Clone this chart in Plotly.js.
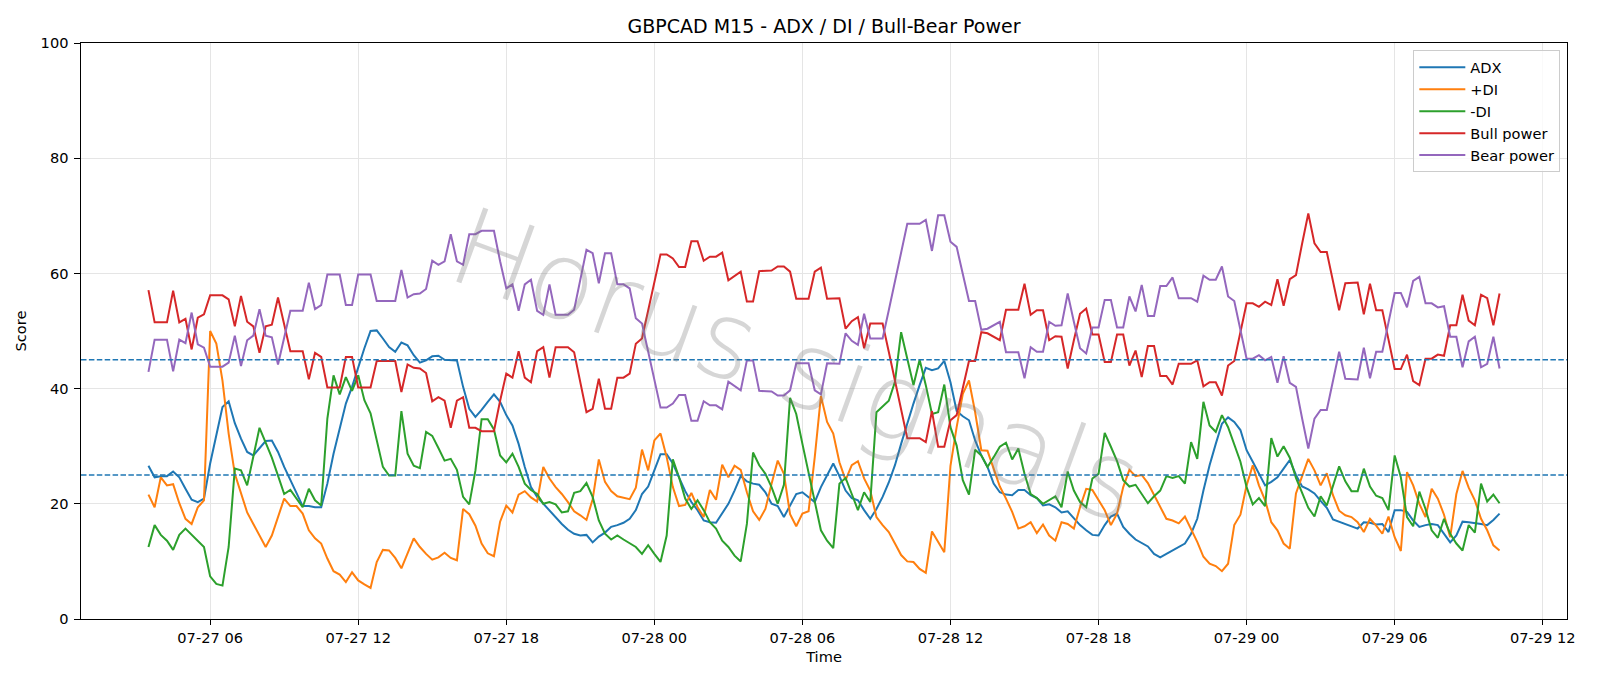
<!DOCTYPE html>
<html>
<head>
<meta charset="utf-8">
<script src="https://cdn.plot.ly/plotly-3.0.1.min.js"></script>
<style>
  html, body { margin: 0; padding: 0; background: #ffffff; }
  #chart { width: 1600px; height: 686px; }
</style>
</head>
<body>
<div id="chart"></div>
<script>
// GBPCAD M15 indicator scores, one value per 15-minute bar
const startTime = '2025-07-27T03:30:00';
const stepMinutes = 15;

const adx = [
  26.6,24.6,24.8,24.8,25.6,24.6,22.6,20.7,20.3,20.9,
  27,32.2,36.8,37.8,34,31.3,29,28.4,29.6,30.9,
  31,29,26.4,24.1,21.8,19.6,19.6,19.4,19.4,23.5,
  28.7,33.3,37.4,40.3,43.8,47,50,50.1,48.7,47.2,
  46.4,48,47.5,45.8,44.5,44.9,45.6,45.7,45,45,
  44.9,40.3,36.5,35.1,36.3,37.7,39,37.7,35.4,33.6,
  30.4,26.4,22.9,21.2,20,18.9,17.7,16.5,15.5,14.8,
  14.5,14.6,13.3,14.3,15,16,16.3,16.7,17.4,18.9,
  21.7,23,25.8,28.6,28.6,27,24.6,22.2,20.3,18.9,
  17.1,16.8,16.7,18.3,20,22.3,24.8,23.9,23.5,23.3,
  22,20,19.6,17.7,19.6,21.7,22,21.2,20.3,22.9,
  24.9,27,24.8,22.3,21,20.6,18.9,17.4,19.1,21.2,
  23.7,26.7,30.4,34,37.4,40.6,43.6,43.2,43.5,44.8,
  41.1,36.1,35.2,34.5,31,28.4,26.4,23.5,22,21.6,
  21.5,22.4,22.4,21.5,21,19.7,19.9,19.4,18.5,18.7,
  17.4,16.3,15.4,14.6,14.5,16.3,17.8,18.3,16,14.8,
  13.8,13.2,12.6,11.3,10.7,11.3,11.9,12.4,13.1,14.8,
  17.4,22.3,26.7,30.4,33.9,35,34.2,32.8,29.3,27.3,
  25.2,23.2,23.8,24.6,26.1,27.6,25,23,22.5,21.8,
  20.5,19.3,17.3,16.9,16.4,16,15.7,16.8,16.7,16.4,
  16.5,15.1,18.9,18.9,18.6,17.1,16,16.3,16.5,16.3,
  14.8,13.3,14.5,16.9,16.8,16.7,16.5,16.3,17.2,18.3
];

const plusDI = [
  21.6,19.4,24.6,23.2,23.4,20.1,17.4,16.5,19.4,20.6,
  50,47.8,41.4,32.2,25.2,21.9,18.5,16.5,14.5,12.5,
  14.5,17.7,20.9,19.6,19.6,18.3,15.4,14,13.1,10.5,
  8.3,7.7,6.4,8.1,6.7,6,5.4,9.9,12,11.9,
  10.6,8.8,11.3,14,12.5,11.3,10.3,10.7,11.5,10.6,
  10.2,19.1,18.2,16.2,13.1,11.4,10.9,16.9,19.7,18.5,
  21.6,22.2,21.1,20.4,26.4,24.4,22.9,21.7,20.3,18.7,
  18,17.2,20.8,27.7,23.8,22.2,21.3,21,20.8,22.8,
  29.4,25.8,31,32.2,28.1,22.9,19.6,19.8,21.9,19.4,
  17.7,22.4,20.7,26.8,24.6,26.6,25.9,22,18.7,17.2,
  19.1,23.5,27.5,25.2,18.2,16.1,18.3,18.7,28.1,38.7,
  34.2,32.2,27.2,24.1,26.7,27.4,24.4,22.3,17.7,16.3,
  15.1,13.1,11.1,10,9.9,8.7,8,15.2,13.3,11.6,
  26.6,33.3,39.1,41.4,35.9,29.3,29.2,26.1,23,20.9,
  18.6,15.7,16.1,16.8,14.9,16.4,14.5,13.6,16.8,16.5,
  15.7,19.4,22.6,22.4,20.6,18.9,16.3,18.3,22.9,25.9,
  24.8,25,23.6,21.5,19.4,17.4,17.1,16.6,17.8,15.7,
  13.4,10.8,9.6,9.2,8.3,9.6,16.3,18.1,23.2,26.7,
  23.2,20.6,16.8,15.4,13.1,12.2,21.8,24.8,27.8,25.8,
  23.2,25.3,21.5,18.8,18,17.7,16.8,15.1,17.4,16.2,
  14.8,17.8,14.2,11.8,25.5,23.2,20,17.7,22.6,20.9,
  18.1,14.2,21.7,25.7,22.8,20.6,17.4,15.4,12.8,11.9
];

const minusDI = [
  12.5,16.3,14.6,13.6,12,14.6,15.7,14.6,13.5,12.5,
  7.4,6.1,5.8,12.5,26.1,25.8,23.2,28.1,33.2,30.6,
  28,24.9,21.7,22.4,20.9,19.4,22.6,20.6,19.7,34.8,
  42.3,39,42,39.6,42.3,38,35.7,30.8,26.4,24.9,
  24.9,36.1,28.7,26.6,26.2,32.5,31.8,29.7,27.5,27.8,
  25.9,21.2,19.9,25.8,34.7,34.7,32.9,28.4,27.2,28.7,
  26.4,23.5,22.4,21.7,20,20.3,19.9,18.5,18.7,21.9,
  22.2,23.6,21.2,17.1,14.8,13.8,14.5,13.8,13.1,12.5,
  11.3,12.8,11.3,9.9,14.5,27.7,24.6,20.9,19.1,20.6,
  18.9,16.8,15.7,13.6,12.5,11,10,16.5,28.9,26.7,
  25.2,22.9,20,23.3,38.4,35.6,30.4,25.2,20.6,15.4,
  13.6,12.3,23.5,24.5,21.7,18.9,22,20.3,35.9,36.9,
  37.9,41.2,49.8,45.2,40.6,45,40.6,35.6,35.9,40.7,
  33.3,30.1,24.1,21.6,29.4,28.4,26.4,28.1,29.9,30.6,
  27.7,29.6,25.2,21.7,21,20,20.6,21.3,19.4,25.6,
  22.3,20.3,19.4,24.4,25.2,32.3,29.9,27.4,24.1,23,
  23.3,21.7,20.1,21.3,22.3,24.8,24.5,24.8,23.5,30.7,
  27.8,37.7,33.6,32.5,35.4,33.3,30.4,27.3,22.9,19.9,
  21,19.6,31.4,28.2,30,28,24.5,22,19.3,17.8,
  21.3,19.7,23.3,26.5,23.9,22.2,22.2,26.1,23,21.4,
  21,18.9,28.4,24.6,17.7,16.1,22.1,19.1,15.4,14.1,
  17.4,14.8,13.1,11.9,16.3,15,23.5,20.4,21.6,20.1
];

const bullPower = [
  57.1,51.5,51.5,51.5,57,51.5,52.1,46.8,52.3,52.9,
  56.2,56.2,56.2,55.5,50.8,56.1,51.6,50.8,46.2,50.8,
  51.1,55.8,51.2,46.5,46.5,46.5,41.6,46.2,45.5,40.2,
  40.2,40.2,45.5,45.5,40.2,40.2,40.2,44.8,44.8,44.8,
  44.8,39.4,44.2,43.6,43.5,42.7,37.8,38.5,37.9,33.2,
  37.9,38.5,33.2,33.2,32.6,32.6,32.6,37.9,42.6,41.9,
  46.5,41.9,41.1,46.5,47.2,41.9,47.2,47.2,47.2,46.3,
  41.1,35.9,36.5,41.7,36.5,36.5,41.9,41.9,42.6,47.8,
  48.7,53.5,58.4,63.3,63.3,62.6,61.1,61.1,65.6,65.6,
  62.2,62.9,62.9,63.6,58.8,59.5,60.3,55.1,55.1,60.4,
  60.5,60.5,61.2,61.2,60.3,55.6,55.6,55.6,60.3,61,
  55.6,55.6,55.7,50.4,51.7,52.4,47,51.3,51.3,51.3,
  46.4,41.4,36.5,31.4,31.4,31.4,30.7,36.1,29.9,29.9,
  34.5,35.4,40.1,44.8,44.8,49.8,49.6,49,48.4,53.7,
  53.7,53.7,58.2,52.8,53.6,53.6,48.4,49.1,49,43.5,
  48.4,53,53.9,49.4,49.4,44.6,44.6,49.4,49.4,44,
  46.6,42,47.4,47.4,42.2,42.2,40.7,44.3,44.3,44.3,
  44.9,40.4,41.1,41.1,38.8,44,44.8,49.8,54.8,54.8,
  54.2,55.1,54.5,59,54.4,59,59.7,65.2,70.4,65.2,
  63.7,63.7,58.5,53.6,58.3,58.4,58.4,52.9,58.2,53.6,
  53.6,48.5,43.4,43.4,45.9,41.3,40.6,45.2,45.2,45.9,
  45.7,51,51,56.3,51.8,51,56.3,55.7,51,56.5
];

const bearPower = [
  42.9,48.5,48.5,48.5,43,48.5,47.9,53.2,47.7,47.1,
  43.8,43.8,43.8,44.5,49.2,43.9,48.4,49.2,53.8,49.2,
  48.9,44.2,48.8,53.5,53.5,53.5,58.4,53.8,54.5,59.8,
  59.8,59.8,54.5,54.5,59.8,59.8,59.8,55.2,55.2,55.2,
  55.2,60.6,55.8,56.4,56.5,57.3,62.2,61.5,62.1,66.8,
  62.1,61.5,66.8,66.8,67.4,67.4,67.4,62.1,57.4,58.1,
  53.5,58.1,58.9,53.5,52.8,58.1,52.8,52.8,52.8,53.7,
  58.9,64.1,63.5,58.3,63.5,63.5,58.1,58.1,57.4,52.2,
  51.3,46.5,41.6,36.7,36.7,37.4,38.9,38.9,34.4,34.4,
  37.8,37.1,37.1,36.4,41.2,40.5,39.7,44.9,44.9,39.6,
  39.5,39.5,38.8,38.8,39.7,44.4,44.4,44.4,39.7,39,
  44.4,44.4,44.3,49.6,48.3,47.6,53,48.7,48.7,48.7,
  53.6,58.6,63.5,68.6,68.6,68.6,69.3,63.9,70.1,70.1,
  65.5,64.6,59.9,55.2,55.2,50.2,50.4,51,51.6,46.3,
  46.3,46.3,41.8,47.2,46.4,46.4,51.6,50.9,51,56.5,
  51.6,47,46.1,50.6,50.6,55.4,55.4,50.6,50.6,56,
  53.4,58,52.6,52.6,57.8,57.8,59.3,55.7,55.7,55.7,
  55.1,59.6,58.9,58.9,61.2,56,55.2,50.2,45.2,45.2,
  45.8,44.9,45.5,41,45.6,41,40.3,34.8,29.6,34.8,
  36.3,36.3,41.5,46.4,41.7,41.6,41.6,47.1,41.8,46.4,
  46.4,51.5,56.6,56.6,54.1,58.7,59.4,54.8,54.8,54.1,
  54.3,49,49,43.7,48.2,49,43.7,44.3,49,43.5
];

const seriesNames = ['ADX', '+DI', '-DI', 'Bull power', 'Bear power'];
const seriesColors = ['#1f77b4', '#ff7f0e', '#2ca02c', '#d62728', '#9467bd'];
const thresholdLevels = [25, 45];
const yTickValues = [0, 20, 40, 60, 80, 100];
const watermarkText = 'Horus signals';

// Bar timestamps as "YYYY-MM-DD HH:MM" strings
function pad(n) { return String(n).padStart(2, '0'); }
function buildTimes(count) {
  const t0 = new Date(startTime + 'Z').getTime();
  const out = [];
  for (let i = 0; i < count; i++) {
    const d = new Date(t0 + i * stepMinutes * 60000);
    out.push(d.getUTCFullYear() + '-' + pad(d.getUTCMonth() + 1) + '-' + pad(d.getUTCDate()) +
             ' ' + pad(d.getUTCHours()) + ':' + pad(d.getUTCMinutes()));
  }
  return out;
}
const times = buildTimes(adx.length);

const allSeries = [adx, plusDI, minusDI, bullPower, bearPower];
const traces = allSeries.map((vals, k) => ({
  type: 'scatter',
  mode: 'lines',
  x: times,
  y: vals,
  name: seriesNames[k],
  line: { color: seriesColors[k], width: 2 },
  hoverinfo: 'skip'
}));

const FONT = 'DejaVu Sans, Verdana, sans-serif';
const LABEL_SIZE = 14.6;

const shapes = thresholdLevels.map(v => ({
  type: 'line', xref: 'paper', x0: 0, x1: 1, yref: 'y', y0: v, y1: v,
  line: { color: '#1f77b4', width: 1.4, dash: '5.5px,2.4px' },
  layer: 'above'
}));

const layout = {
  width: 1600,
  height: 686,
  margin: { l: 81, r: 33, t: 43, b: 67, pad: 0 },
  paper_bgcolor: '#ffffff',
  plot_bgcolor: '#ffffff',
  font: { family: FONT, size: LABEL_SIZE, color: '#000000' },
  title: {
    text: 'GBPCAD M15 - ADX / DI / Bull-Bear Power',
    font: { family: FONT, size: 19, color: '#000000' },
    x: 0.5, xref: 'paper', xanchor: 'center',
    y: 1 - 26 / 686, yref: 'container', yanchor: 'middle'
  },
  xaxis: {
    type: 'date',
    range: ['2025-07-27 00:46', '2025-07-29 12:59'],
    tick0: '2025-07-27 00:00',
    dtick: 6 * 3600 * 1000,
    tickformat: '%m-%d %H',
    ticks: 'outside', ticklen: 5, tickwidth: 1, tickcolor: '#000000',
    tickfont: { family: FONT, size: LABEL_SIZE, color: '#000000' },
    showgrid: true, gridcolor: '#e5e5e5', gridwidth: 1,
    showline: true, linecolor: '#000000', linewidth: 1.1, mirror: true,
    zeroline: false,
    title: { text: 'Time', font: { family: FONT, size: LABEL_SIZE, color: '#000000' }, standoff: 7 }
  },
  yaxis: {
    range: [0, 100],
    tickvals: yTickValues,
    ticktext: yTickValues.map(String),
    ticks: 'outside', ticklen: 5.5, tickwidth: 1, tickcolor: '#000000',
    ticklabelstandoff: 3,
    tickfont: { family: FONT, size: LABEL_SIZE, color: '#000000' },
    showgrid: true, gridcolor: '#e5e5e5', gridwidth: 1,
    showline: true, linecolor: '#000000', linewidth: 1.1, mirror: true,
    zeroline: false,
    title: { text: 'Score', font: { family: FONT, size: LABEL_SIZE, color: '#000000' }, standoff: 10 }
  },
  legend: {
    x: 0.9955, y: 0.9875, xanchor: 'right', yanchor: 'top',
    bgcolor: 'rgba(255,255,255,0.8)', bordercolor: '#cccccc', borderwidth: 1,
    font: { family: FONT, size: LABEL_SIZE, color: '#000000' },
    itemwidth: 46,
    tracegroupgap: 0
  },
  shapes: shapes,
  annotations: [{
    text: watermarkText,
    xref: 'paper', yref: 'paper',
    x: 0.4815, y: 0.44, xanchor: 'center', yanchor: 'middle',
    showarrow: false,
    textangle: 20,
    font: { family: 'DejaVu Sans', size: 108, color: 'rgba(120,120,120,0.3)', weight: 200 }
  }],
  showlegend: true
};

Plotly.newPlot('chart', traces, layout, { displayModeBar: false, staticPlot: true });
</script>
</body>
</html>
